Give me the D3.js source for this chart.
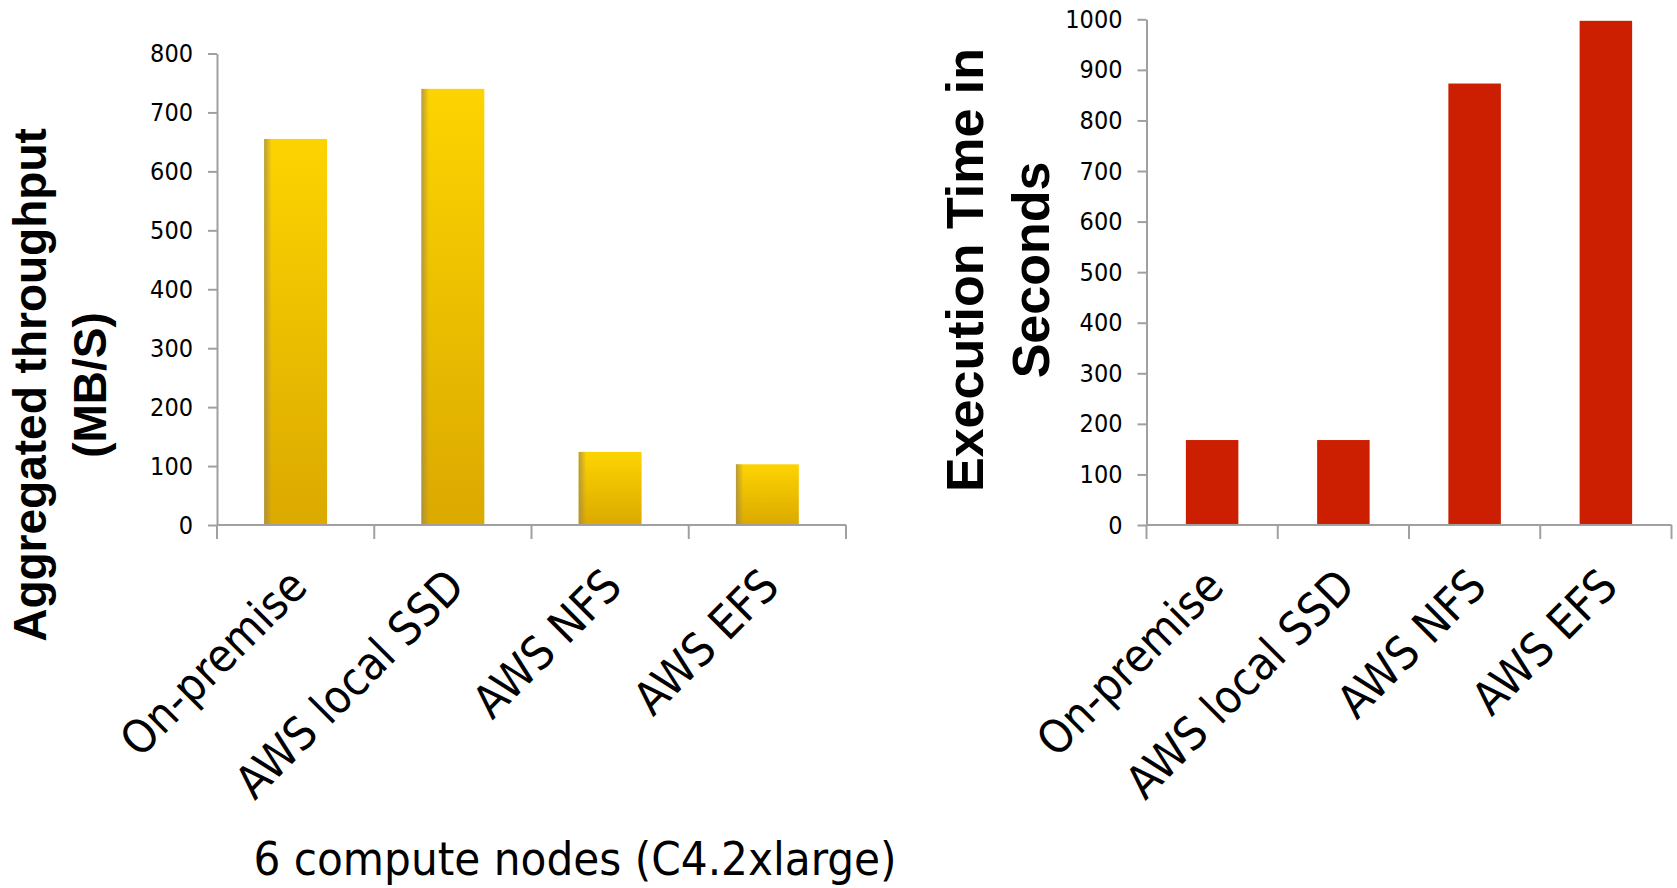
<!DOCTYPE html>
<html>
<head>
<meta charset="utf-8">
<script src="https://cdn.jsdelivr.net/npm/d3@7"></script>
<style>
body { margin: 0; background: #fff; }
svg { display: block; }
.tick text { font-family: "DejaVu Sans Condensed", "DejaVu Sans"; font-size: 25px; fill: #000; }
.domain, .tick line { stroke: #a0a0a0; stroke-width: 2; }
</style>
</head>
<body>
<svg width="1677" height="888"></svg>
<script>
var categories = ["On-premise", "AWS local SSD", "AWS NFS", "AWS EFS"];
var throughputValues = [655, 740, 124, 103];
var executionTimes = [168, 168, 873, 997];
var throughputTicks = [0, 100, 200, 300, 400, 500, 600, 700, 800];
var timeTicks = [0, 100, 200, 300, 400, 500, 600, 700, 800, 900, 1000];

var svg = d3.select("svg");
var defs = svg.append("defs");

// gold bars: light on top, darker at the bottom
var gold = defs.append("linearGradient")
    .attr("id", "goldFill")
    .attr("x1", 0).attr("y1", 0).attr("x2", 0).attr("y2", 1);
gold.append("stop").attr("offset", "0%").attr("stop-color", "#fdd400");
gold.append("stop").attr("offset", "100%").attr("stop-color", "#dba900");

// darker strip on the left side of each gold bar
var edge = defs.append("linearGradient")
    .attr("id", "goldEdge")
    .attr("x1", 0).attr("y1", 0).attr("x2", 1).attr("y2", 0);
edge.append("stop").attr("offset", "0%").attr("stop-color", "#a08850").attr("stop-opacity", 0.75);
edge.append("stop").attr("offset", "12%").attr("stop-color", "#a08850").attr("stop-opacity", 0);
edge.append("stop").attr("offset", "100%").attr("stop-color", "#a08850").attr("stop-opacity", 0);

function drawBarChart(opts) {
    var g = svg.append("g");

    var x = d3.scaleBand()
        .domain(categories)
        .range([opts.left, opts.right])
        .paddingInner(0.6)
        .paddingOuter(0.3);

    var y = d3.scaleLinear()
        .domain([0, opts.max])
        .range([opts.bottom, opts.top]);

    // y axis
    g.append("g")
        .attr("transform", "translate(" + opts.left + ",0)")
        .call(d3.axisLeft(y)
            .tickValues(opts.ticks)
            .tickFormat(d3.format("d"))
            .tickSize(9)
            .tickSizeOuter(0)
            .tickPadding(15));

    // bars
    var bars = g.append("g");
    bars.selectAll("rect.bar")
        .data(opts.values)
        .enter()
        .append("rect")
        .attr("class", "bar")
        .attr("x", function(d, i) { return x(categories[i]); })
        .attr("y", function(d) { return y(d); })
        .attr("width", x.bandwidth())
        .attr("height", function(d) { return y(0) - y(d); })
        .attr("fill", opts.fill);
    if (opts.shade) {
        bars.selectAll("rect.shade")
            .data(opts.values)
            .enter()
            .append("rect")
            .attr("class", "shade")
            .attr("x", function(d, i) { return x(categories[i]); })
            .attr("y", function(d) { return y(d); })
            .attr("width", x.bandwidth())
            .attr("height", function(d) { return y(0) - y(d); })
            .attr("fill", "url(#goldEdge)");
    }

    // x axis line with ticks at the band edges
    g.append("line")
        .attr("x1", opts.left).attr("x2", opts.right)
        .attr("y1", y(0)).attr("y2", y(0))
        .attr("stroke", "#a0a0a0").attr("stroke-width", 2);
    var edges = d3.range(categories.length + 1);
    g.selectAll("line.xtick")
        .data(edges)
        .enter()
        .append("line")
        .attr("class", "xtick")
        .attr("x1", function(i) { return opts.left + i * x.step(); })
        .attr("x2", function(i) { return opts.left + i * x.step(); })
        .attr("y1", y(0))
        .attr("y2", y(0) + 14)
        .attr("stroke", "#a0a0a0").attr("stroke-width", 2);

    // rotated category labels
    g.selectAll("text.cat")
        .data(categories)
        .enter()
        .append("text")
        .attr("class", "cat")
        .attr("text-anchor", "end")
        .attr("transform", function(c) {
            var cx = x(c) + x.bandwidth() / 2 + 14;
            return "translate(" + cx + "," + (y(0) + 64) + ") rotate(-45)";
        })
        .style("font-family", "'DejaVu Sans Condensed', 'DejaVu Sans'")
        .style("font-size", "46px")
        .text(function(c) { return c; });

    // y axis title, two lines
    var title = g.append("text")
        .attr("text-anchor", "middle")
        .attr("transform", "translate(" + opts.titleX + "," + opts.titleY + ") rotate(-90)")
        .style("font-family", "'Liberation Sans', Arial, sans-serif")
        .style("font-weight", "bold")
        .style("font-size", opts.titleSize + "px");
    title.selectAll("tspan")
        .data(opts.title)
        .enter()
        .append("tspan")
        .attr("x", 0)
        .attr("dy", function(d, i) { return i === 0 ? 0 : opts.titleGap; })
        .text(function(d) { return d; });
}

drawBarChart({
    left: 217, right: 846, top: 53.5, bottom: 525,
    max: 800, ticks: throughputTicks, values: throughputValues,
    fill: "url(#goldFill)", shade: true,
    title: ["Aggregated throughput", "(MB/S)"], titleX: 46, titleY: 385,
    titleSize: 46, titleGap: 60
});

drawBarChart({
    left: 1146.5, right: 1671.5, top: 19.3, bottom: 525,
    max: 1000, ticks: timeTicks, values: executionTimes,
    fill: "#cc1e00", shade: false,
    title: ["Execution Time in", "Seconds"], titleX: 983, titleY: 270,
    titleSize: 52, titleGap: 66
});

svg.append("text")
    .attr("x", 575)
    .attr("y", 875)
    .attr("text-anchor", "middle")
    .style("font-family", "'DejaVu Sans Condensed', 'DejaVu Sans'")
    .style("font-size", "47px")
    .text("6 compute nodes (C4.2xlarge)");
</script>
</body>
</html>
